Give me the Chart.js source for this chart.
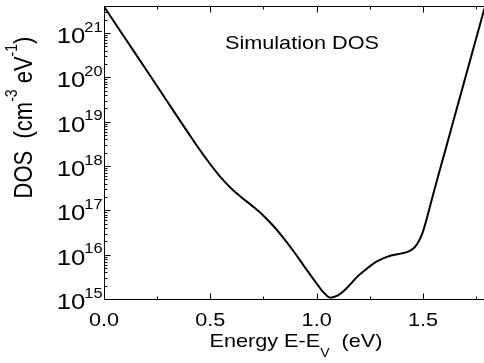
<!DOCTYPE html>
<html>
<head>
<meta charset="utf-8">
<script src="https://cdn.jsdelivr.net/npm/chart.js@4/dist/chart.umd.min.js"></script>
<style>
  html, body { margin: 0; padding: 0; background: #fff; }
  canvas { display: block; }
</style>
</head>
<body>
<canvas id="dosChart" width="484" height="363"></canvas>
<script>
// energy (eV) and simulated DOS (cm^-3 eV^-1)
const energy = [0.00, 0.10, 0.20, 0.30, 0.40, 0.45, 0.50, 0.55, 0.60, 0.65,
                0.70, 0.75, 0.80, 0.85, 0.90, 0.95, 1.00, 1.03, 1.065, 1.10,
                1.13, 1.16, 1.19, 1.23, 1.27, 1.31, 1.35, 1.40, 1.43, 1.46,
                1.48, 1.50, 1.55, 1.60, 1.65, 1.70, 1.75, 1.79];
const dos = [3.98e21, 7.59e20, 1.45e20, 2.75e19, 5.25e18, 2.34e18, 1.10e18, 5.50e17, 3.09e17, 1.91e17,
             1.23e17, 7.59e16, 4.27e16, 2.19e16, 1.05e16, 4.79e15, 2.24e15, 1.45e15, 1.07e15, 1.20e15,
             1.55e15, 2.19e15, 3.16e15, 4.57e15, 6.46e15, 8.13e15, 9.55e15, 1.07e16, 1.17e16, 1.45e16,
             2.00e16, 3.31e16, 2.51e17, 1.86e18, 1.38e19, 1.02e20, 7.59e20, 3.72e21];

const xTicks = [0, 0.5, 1.0, 1.5];
const xTickLabels = ['0.0', '0.5', '1.0', '1.5'];
const xMinorTicks = [0.25, 0.75, 1.25, 1.75];
const yExponents = [15, 16, 17, 18, 19, 20, 21];

const xTitle = ['Energy E-E', 'V', '  (eV)'];
const yTitle = ['DOS  (cm', '-3', ' eV', '-1', ')'];
const annotation = 'Simulation DOS';

const FONT = 'Arial, "Liberation Sans", sans-serif';
const SX = 1.17; // text in the source picture is a bit wide

function wideText(ctx, txt, x, y, size, align) {
    ctx.save();
    ctx.font = size + 'px ' + FONT;
    ctx.textAlign = 'left';
    ctx.textBaseline = 'alphabetic';
    let w = ctx.measureText(txt).width * SX;
    let start = x;
    if (align === 'center') start = x - w / 2;
    if (align === 'right') start = x - w;
    ctx.translate(start, y);
    ctx.scale(SX, 1);
    ctx.fillText(txt, 0, 0);
    ctx.restore();
    return w;
}

function textWidth(ctx, txt, size) {
    ctx.font = size + 'px ' + FONT;
    return ctx.measureText(txt).width;
}

const axesPlugin = {
    id: 'axesPlugin',
    afterDraw(chart) {
        const ctx = chart.ctx;
        const xs = chart.scales.x;
        const ys = chart.scales.y;
        const area = chart.chartArea;
        const L = Math.round(area.left) + 0.5;
        const B = Math.round(area.bottom) + 0.5;
        const T = Math.round(area.top) + 0.5;

        ctx.save();
        ctx.strokeStyle = '#000';
        ctx.fillStyle = '#000';
        ctx.lineWidth = 1;

        // frame: left, bottom, top
        ctx.beginPath();
        ctx.moveTo(L, T); ctx.lineTo(L, B);
        ctx.moveTo(L, B); ctx.lineTo(area.right, B);
        ctx.moveTo(L, T); ctx.lineTo(area.right, T);
        ctx.stroke();

        // x ticks, bottom and top, pointing in
        ctx.beginPath();
        xTicks.forEach(v => {
            let px = Math.round(xs.getPixelForValue(v)) + 0.5;
            ctx.moveTo(px, B); ctx.lineTo(px, B - 6);
            ctx.moveTo(px, T); ctx.lineTo(px, T + 6);
        });
        xMinorTicks.forEach(v => {
            let px = Math.round(xs.getPixelForValue(v)) + 0.5;
            ctx.moveTo(px, B); ctx.lineTo(px, B - 3);
            ctx.moveTo(px, T); ctx.lineTo(px, T + 3);
        });
        // y ticks on the left
        yExponents.forEach(e => {
            let py = Math.round(ys.getPixelForValue(Math.pow(10, e))) + 0.5;
            ctx.moveTo(L, py); ctx.lineTo(L + 6, py);
            for (let m = 2; m <= 9; m++) {
                let v = m * Math.pow(10, e);
                if (v > ys.max) break;
                let pm = Math.round(ys.getPixelForValue(v)) + 0.5;
                ctx.moveTo(L, pm); ctx.lineTo(L + 3, pm);
            }
        });
        ctx.stroke();

        // x tick labels
        xTicks.forEach((v, i) => {
            let px = xs.getPixelForValue(v);
            wideText(ctx, xTickLabels[i], px, B + 26, 18.5, 'center');
        });

        // y tick labels 10^n
        yExponents.forEach(e => {
            let py = ys.getPixelForValue(Math.pow(10, e));
            let ew = wideText(ctx, String(e), L - 2, py - 1.5, 14, 'right');
            wideText(ctx, '10', L - 2 - ew + 1, py + 10, 22, 'right');
        });

        // x axis title with subscript
        let w0 = textWidth(ctx, xTitle[0], 18.5) * SX;
        let w1 = textWidth(ctx, xTitle[1], 12) * SX;
        let w2 = textWidth(ctx, xTitle[2], 18.5) * SX;
        let xc = (area.left + area.right) / 2 + 2;
        let x0 = xc - (w0 + w1 + w2) / 2;
        wideText(ctx, xTitle[0], x0, 347, 18.5, 'left');
        wideText(ctx, xTitle[1], x0 + w0, 357, 12, 'left');
        wideText(ctx, xTitle[2], x0 + w0 + w1, 347, 18.5, 'left');

        // y axis title, rotated, with superscripts
        const sizes = [22, 14, 22, 14, 22];
        const rise = [0, -12, 0, -12, 0];
        let widths = yTitle.map((t, i) => textWidth(ctx, t, sizes[i]));
        let total = widths.reduce((a, b) => a + b, 0);
        ctx.save();
        ctx.translate(31.5, 117.5);
        ctx.rotate(-Math.PI / 2);
        ctx.scale(1, SX);
        ctx.textBaseline = 'alphabetic';
        ctx.textAlign = 'left';
        let cx = -total / 2;
        yTitle.forEach((t, i) => {
            ctx.font = sizes[i] + 'px ' + FONT;
            ctx.fillText(t, cx, rise[i]);
            cx += widths[i];
        });
        ctx.restore();

        // annotation inside the plot
        wideText(ctx, annotation, area.left + 121, 49, 18.5, 'left');

        ctx.restore();
    }
};

const points = energy.map((e, i) => ({ x: e, y: dos[i] }));

const config = {
    type: 'line',
    data: {
        datasets: [{
            label: 'Simulation DOS',
            data: points,
            borderColor: '#000',
            borderWidth: 2,
            pointRadius: 0,
            fill: false,
            cubicInterpolationMode: 'monotone'
        }]
    },
    options: {
        responsive: false,
        animation: false,
        devicePixelRatio: 1,
        layout: { padding: { left: 104, top: 6, right: 0, bottom: 64 } },
        plugins: {
            legend: { display: false },
            tooltip: { enabled: false }
        },
        scales: {
            x: {
                type: 'linear',
                min: 0,
                max: 1.787,
                display: false
            },
            y: {
                type: 'logarithmic',
                min: 1e15,
                max: 4.1e21,
                display: false
            }
        }
    },
    plugins: [axesPlugin]
};

const myChart = new Chart(document.getElementById('dosChart'), config);
</script>
</body>
</html>
